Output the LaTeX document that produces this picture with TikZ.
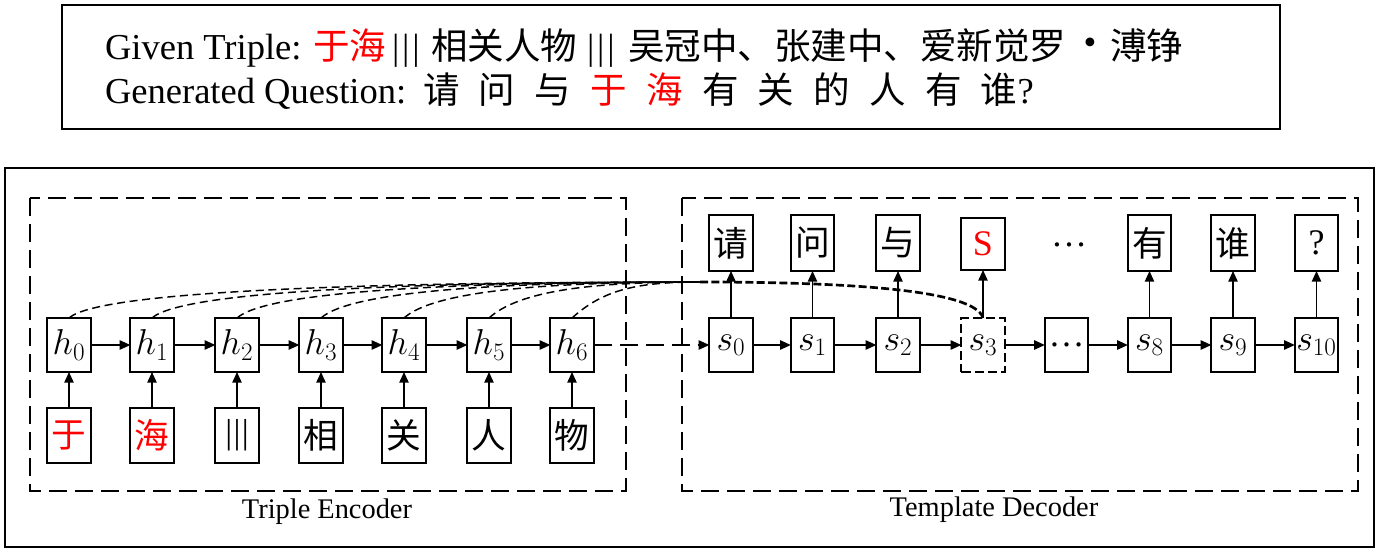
\RequirePackage{fix-cm}
\documentclass[tikz,border=0pt]{standalone}
\usepackage{fontspec}
\setmainfont{Liberation Serif}
\newfontfamily\cjk{Noto Sans CJK SC}
\usetikzlibrary{arrows.meta}
\newcommand\qg{\hspace{14.45pt}}
\newcommand\bars[1]{|\kern#1|\kern#1|}
\begin{document}
\begin{tikzpicture}[x=0.75pt,y=-0.75pt,
  every node/.style={inner sep=0pt, outer sep=0pt},
  hbx/.style={draw, line width=1.5pt, minimum width=32.5pt, minimum height=40.5pt, font=\fontsize{27}{27}\selectfont},
  cbx/.style={hbx, minimum height=41.5pt, font=\cjk\fontsize{26}{26}\selectfont},
  obx/.style={hbx, minimum height=42pt, font=\cjk\fontsize{26}{26}\selectfont},
  arr/.style={line width=1.1pt, -{Triangle[length=8pt,width=7pt]}},
  dbox/.style={line width=1.5pt, dash pattern=on 13.5pt off 6pt},
  att/.style={line width=1.1pt, dash pattern=on 6pt off 3.5pt},
  attc/.style={line width=2pt, dash pattern=on 6pt off 2.5pt},
  lab/.style={font=\fontsize{21.3}{22}\selectfont},
  ttxt/.style={font=\fontsize{27.4}{28}\selectfont, anchor=base west},
]
\useasboundingbox (0,0) rectangle (1379,550);
% frames
\draw[line width=1.9pt] (62,5) rectangle (1280,129);
\draw[line width=2.2pt] (5,168) rectangle (1374,547);
\draw[dbox] (30,198) rectangle (626,491);
\draw[dbox] (682,198) rectangle (1358,491);
% top text
\node[ttxt] (g1) at (105,59) {Given Triple:};
\node[ttxt] (g2) at (313,59) {\cjk\color{red}于海};
\node[ttxt] (g3) at (392,59) {\bars{2.2pt}};
\node[ttxt] (g4) at (431,59) {\cjk 相关人物};
\node[ttxt] (g5) at (587,59) {\bars{2.2pt}};
\node[ttxt] (g6) at (628,59) {\cjk 吴冠中、张建中、爱新觉罗};
\node[font=\fontsize{27.4}{28}\selectfont] (g7) at (1090,46) {•};
\node[ttxt] (g8) at (1110,59) {\cjk 溥铮};
\node[ttxt] (q1) at (105,103) {Generated Question:};
\node[ttxt] (q2) at (423,103) {\cjk 请\qg 问\qg 与\qg{\color{red}于\qg 海}\qg 有\qg 关\qg 的\qg 人\qg 有\qg 谁\rmfamily ?};
% labels
\node[lab] (encl) at (327,512) {Triple Encoder};
\node[lab] (decl) at (994,510) {Template Decoder};
% encoder
\foreach \i/\x/\c in {0/69/{\color{red}于},1/152/{\color{red}海},2/237/{\rmfamily\bars{1pt}},3/321/相,4/404/关,5/489/人,6/572/物}{
  \node[hbx] (h\i) at (\x,345) {$h_{\i}$};
  \node[cbx] (c\i) at (\x,435.5) {\c};
  \draw[arr] (c\i) -- (h\i);
}
\foreach \a/\b in {0/1,1/2,2/3,3/4,4/5,5/6}{\draw[arr] (h\a) -- (h\b);}
% decoder
\node[hbx] (s0) at (731,345) {$s_0$};
\node[hbx] (s1) at (812.5,345) {$s_1$};
\node[hbx] (s2) at (898,345) {$s_2$};
\node[hbx, dash pattern=on 7pt off 3pt] (s3) at (983,345) {$s_3$};
\node[hbx] (sd) at (1066.5,345) {…};
\node[hbx] (s8) at (1149.5,345) {$s_8$};
\node[hbx] (s9) at (1233,345) {$s_9$};
\node[hbx] (s10) at (1316.5,345) {$s_{10}$};
\node[obx] (o0) at (731,243) {请};
\node[obx] (o1) at (812.5,243) {问};
\node[obx] (o2) at (898,243) {与};
\node[obx, font=\fontsize{27}{27}\selectfont, text=red, minimum height=39pt] (o3) at (983,244) {S};
\node[font=\fontsize{27}{27}\selectfont] (od) at (1069,245) {…};
\node[obx] (o8) at (1149.5,243) {有};
\node[obx] (o9) at (1233,243) {谁};
\node[obx, font=\fontsize{27}{27}\selectfont] (o10) at (1316.5,243) {?};
\draw[arr, dash pattern=on 13.5pt off 6pt] (h6) -- (s0);
\foreach \a/\b in {s0/s1,s1/s2,s2/s3,s3/sd,sd/s8,s8/s9,s9/s10}{\draw[arr] (\a) -- (\b);}
\foreach \i in {0,1,2,3,8,9,10}{\draw[arr] (s\i) -- (o\i);}
% attention
\coordinate (J) at (700,282);
\foreach \i/\x in {0/69,1/152,2/237,3/321,4/404,5/489,6/572}{
  \draw[att] (h\i.north) .. controls +(31,-28) and ({\x/2+350},282) .. (J);
}
\draw[attc] (J) .. controls (850,282) and (975,290) .. (s3.north);
\end{tikzpicture}
\end{document}
